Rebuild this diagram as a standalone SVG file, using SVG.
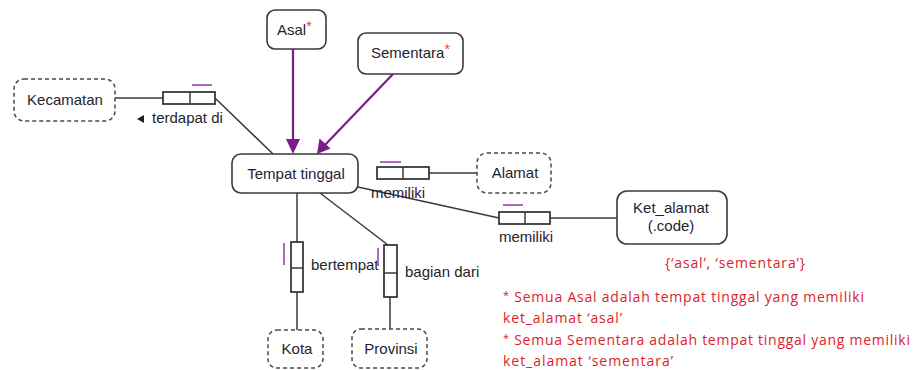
<svg xmlns="http://www.w3.org/2000/svg" width="916" height="370" viewBox="0 0 916 370">
  <style>
    .bg { fill: #ffffff; }
    .node { fill: #ffffff; stroke: #3a3a3a; stroke-width: 1.6; }
    .value { fill: #ffffff; stroke: #4a4a4a; stroke-width: 1.5; stroke-dasharray: 4 3; }
    .role { fill: #ffffff; stroke: #2e2e2e; stroke-width: 1.7; }
    .link { stroke: #3a3a3a; stroke-width: 1.5; fill: none; }
    .subtype { stroke: #7d1a8c; stroke-width: 2.2; fill: none; }
    .arrowhead { fill: #7d1a8c; }
    .uniq { stroke: #b266c0; stroke-width: 2; }
    .lbl { font-family: "Liberation Sans", Arial, sans-serif; font-size: 15px; fill: #1f2330; }
    .mid { text-anchor: middle; }
    .star { fill: #e8404a; font-size: 14px; }
    .note { font-family: "Open Sans", "Liberation Sans", sans-serif; font-size: 14px; fill: #d9232e; }
  </style>
  <rect class="bg" x="0" y="0" width="916" height="370"/>

  <!-- connectors: role lines and subtype arrows -->
  <g id="connectors">
    <line class="link" x1="115" y1="98" x2="163" y2="98"/>
    <line class="link" x1="215" y1="98" x2="273" y2="154"/>
    <line class="link" x1="429" y1="173" x2="477" y2="173"/>
    <line class="link" x1="358" y1="187" x2="499" y2="218"/>
    <line class="link" x1="550" y1="218" x2="617" y2="218"/>
    <line class="link" x1="297" y1="193" x2="297" y2="242"/>
    <line class="link" x1="297" y1="292" x2="297" y2="330"/>
    <line class="link" x1="320" y1="193" x2="388" y2="245"/>
    <line class="link" x1="390" y1="297" x2="390" y2="329"/>
    <line class="subtype" x1="293" y1="49" x2="293" y2="142"/>
    <path class="arrowhead" d="M286,139 L300,139 L293,154 z"/>
    <line class="subtype" x1="393" y1="74" x2="324" y2="146"/>
    <path class="arrowhead" d="M317,154 L319.5,138.5 L330.5,148.5 z"/>
  </g>

  <!-- fact type: Tempat tinggal terdapat di Kecamatan -->
  <g id="fact-terdapat-di">
    <rect class="role" x="163" y="92" width="52" height="12"/>
    <line class="link" x1="190" y1="92" x2="190" y2="104"/>
    <line class="uniq" x1="192" y1="85" x2="212" y2="85"/>
    <polygon points="144,115 144,123 137,119" fill="#1f1f1f"/>
    <text class="lbl" x="152" y="123">terdapat di</text>
  </g>

  <!-- fact type: Tempat tinggal memiliki Alamat -->
  <g id="fact-memiliki-alamat">
    <rect class="role" x="377" y="167" width="52" height="12"/>
    <line class="link" x1="403" y1="167" x2="403" y2="179"/>
    <line class="uniq" x1="380" y1="162" x2="401" y2="162"/>
    <text class="lbl mid" x="398" y="198">memiliki</text>
  </g>

  <!-- fact type: Tempat tinggal memiliki Ket_alamat -->
  <g id="fact-memiliki-ket">
    <rect class="role" x="499" y="212" width="51" height="12"/>
    <line class="link" x1="525" y1="212" x2="525" y2="224"/>
    <line class="uniq" x1="503" y1="205" x2="523" y2="205"/>
    <text class="lbl mid" x="526" y="242">memiliki</text>
  </g>

  <!-- fact type: Tempat tinggal bertempat Kota -->
  <g id="fact-bertempat">
    <rect class="role" x="291" y="242" width="12" height="50"/>
    <line class="link" x1="291" y1="268" x2="303" y2="268"/>
    <line class="uniq" x1="284" y1="243" x2="284" y2="265"/>
    <text class="lbl" x="311" y="270">bertempat</text>
  </g>

  <!-- fact type: Tempat tinggal bagian dari Provinsi -->
  <g id="fact-bagian-dari">
    <rect class="role" x="384" y="245" width="13" height="52"/>
    <line class="link" x1="384" y1="273" x2="397" y2="273"/>
    <line class="uniq" x1="378" y1="248" x2="378" y2="266"/>
    <text class="lbl" x="405" y="277">bagian dari</text>
  </g>

  <!-- entity types -->
  <g id="asal">
    <rect class="node" x="267" y="10" width="59" height="39" rx="8"/>
    <text class="lbl" x="277" y="35">Asal<tspan class="star" dy="-4">*</tspan></text>
  </g>
  <g id="sementara">
    <rect class="node" x="358" y="33" width="105" height="41" rx="8"/>
    <text class="lbl" x="371" y="58">Sementara<tspan class="star" dy="-4">*</tspan></text>
  </g>
  <g id="tempat-tinggal">
    <rect class="node" x="232" y="154" width="126" height="39" rx="9"/>
    <text class="lbl mid" x="296" y="179">Tempat tinggal</text>
  </g>
  <g id="ket-alamat">
    <rect class="node" x="617" y="191" width="110" height="53" rx="10"/>
    <text class="lbl mid" x="671" y="213">Ket_alamat</text>
    <text class="lbl mid" x="671" y="231">(.code)</text>
  </g>

  <!-- value types -->
  <g id="kecamatan">
    <rect class="value" x="14" y="79" width="101" height="42" rx="10"/>
    <text class="lbl mid" x="65" y="105">Kecamatan</text>
  </g>
  <g id="alamat">
    <rect class="value" x="477" y="153" width="74" height="40" rx="10"/>
    <text class="lbl mid" x="515" y="178">Alamat</text>
  </g>
  <g id="kota">
    <rect class="value" x="268" y="330" width="55" height="38" rx="9"/>
    <text class="lbl mid" x="297" y="354">Kota</text>
  </g>
  <g id="provinsi">
    <rect class="value" x="352" y="329" width="75" height="39" rx="9"/>
    <text class="lbl mid" x="391" y="354">Provinsi</text>
  </g>

  <!-- value constraint and rules -->
  <g id="rules">
    <text class="note" x="665" y="268" textLength="140" lengthAdjust="spacing">{‘asal’, ‘sementara’}</text>
    <text class="note" x="503" y="302" textLength="361" lengthAdjust="spacing"><tspan font-size="11" dy="-3">*</tspan><tspan dy="3"> Semua Asal adalah tempat tinggal yang memiliki</tspan></text>
    <text class="note" x="503" y="323" textLength="119" lengthAdjust="spacing">ket_alamat ‘asal’</text>
    <text class="note" x="503" y="345" textLength="407" lengthAdjust="spacing"><tspan font-size="11" dy="-3">*</tspan><tspan dy="3"> Semua Sementara adalah tempat tinggal yang memiliki</tspan></text>
    <text class="note" x="503" y="366" textLength="170" lengthAdjust="spacing">ket_alamat ‘sementara’</text>
  </g>
</svg>
